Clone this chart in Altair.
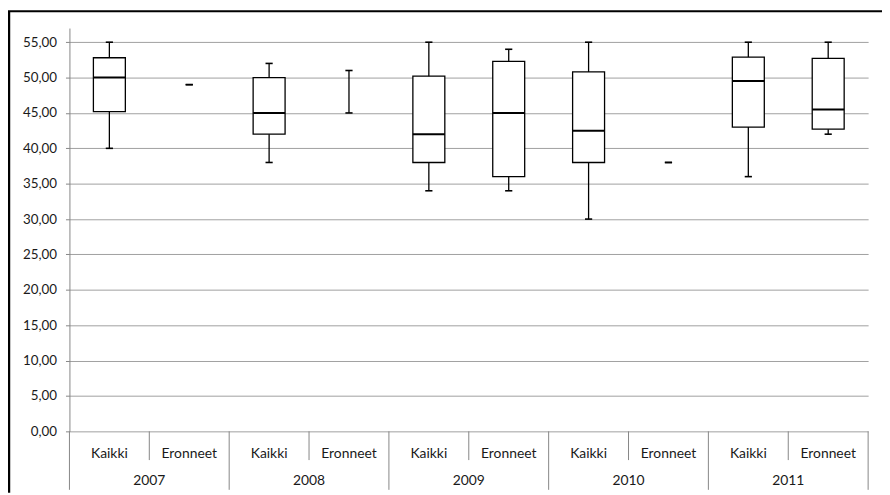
import altair as alt
import pandas as pd

# ---- data ----
years = ["2007", "2007", "2008", "2008", "2009", "2009", "2010", "2010", "2011", "2011"]
groups = ["Kaikki", "Eronneet"] * 5
mins = [40, 49, 38, 45, 34, 34, 30, 38, 36, 42]
q1s = [45.2, None, 42, None, 38, 36, 38, None, 43, 42.7]
meds = [50, None, 45, None, 42, 45, 42.5, None, 49.5, 45.5]
q3s = [52.8, None, 50, None, 50.2, 52.3, 50.8, None, 52.9, 52.7]
maxs = [55, 49, 52, 51, 55, 54, 55, 38, 55, 55]
year_labels = ["2007", "2008", "2009", "2010", "2011"]
y_ticks = [0, 5, 10, 15, 20, 25, 30, 35, 40, 45, 50, 55]

FONT = "Lato"
W, H = 806, 407

df = pd.DataFrame({
    "year": years, "group": groups, "min": mins, "q1": q1s,
    "median": meds, "q3": q3s, "max": maxs,
})
df["pos"] = df.index + 0.5

ydf = pd.DataFrame({"year": year_labels})
ydf["pos"] = ydf.index * 2 + 1.0

bdf = pd.DataFrame({"b": list(range(11))})
bdf["kind"] = ["outer" if b % 2 == 0 else "inner" for b in bdf["b"]]

xscale = alt.Scale(domain=[0, 10], nice=False, zero=False)
yscale = alt.Scale(domain=[0, 57], nice=False, zero=True)
yaxis = alt.Axis(
    values=y_ticks, tickCount=12, labelOverlap=False,
    labelExpr="replace(format(datum.value, '.2f'), '.', ',')",
    grid=True, gridColor="#a0a0a0", gridWidth=1,
    domainColor="#868686", tickColor="#868686", tickSize=4,
    labelPadding=9, labelFont=FONT, labelFontSize=13.5, labelColor="#1a1a1a",
    title=None)

base = alt.Chart(df)

whisk = base.mark_rule(color="#000", strokeWidth=1.3).encode(
    x=alt.X("pos:Q", scale=xscale, axis=None),
    y=alt.Y("min:Q", scale=yscale, axis=yaxis),
    y2="max:Q",
)

box_base = base.transform_filter("isValid(datum.q1)").transform_calculate(
    xl="datum.pos - 0.2", xr="datum.pos + 0.2")

box = box_base.mark_bar(fill="white", stroke="#000", strokeWidth=1.3).encode(
    x=alt.X("xl:Q", scale=xscale, axis=None), x2="xr:Q",
    y=alt.Y("q1:Q", scale=yscale, axis=yaxis), y2="q3:Q",
)
med = box_base.mark_rule(color="#000", strokeWidth=2).encode(
    x=alt.X("xl:Q", scale=xscale, axis=None), x2="xr:Q",
    y=alt.Y("median:Q", scale=yscale, axis=yaxis),
)

cap_base = base.transform_calculate(cl="datum.pos - 0.045", cr="datum.pos + 0.045")
cap_lo = cap_base.mark_rule(color="#000", strokeWidth=1.6).encode(
    x=alt.X("cl:Q", scale=xscale, axis=None), x2="cr:Q",
    y=alt.Y("min:Q", scale=yscale, axis=yaxis))
cap_hi = cap_base.mark_rule(color="#000", strokeWidth=1.6).encode(
    x=alt.X("cl:Q", scale=xscale, axis=None), x2="cr:Q",
    y=alt.Y("max:Q", scale=yscale, axis=yaxis))

sep_inner = alt.Chart(bdf).transform_filter("datum.kind == 'inner'").mark_rule(
    color="#868686", strokeWidth=1).encode(
    x=alt.X("b:Q", scale=xscale, axis=None), y=alt.value(H), y2=alt.value(H + 29))
sep_outer = alt.Chart(bdf).transform_filter("datum.kind == 'outer'").mark_rule(
    color="#868686", strokeWidth=1).encode(
    x=alt.X("b:Q", scale=xscale, axis=None), y=alt.value(H), y2=alt.value(H + 59))

grp_text = base.mark_text(font=FONT, fontSize=14, color="#1a1a1a", baseline="middle").encode(
    x=alt.X("pos:Q", scale=xscale, axis=None), y=alt.value(H + 23), text="group:N")
year_text = alt.Chart(ydf).mark_text(font=FONT, fontSize=14, color="#1a1a1a", baseline="middle").encode(
    x=alt.X("pos:Q", scale=xscale, axis=None), y=alt.value(H + 50), text="year:N")

# frame decorations (edge of the surrounding table)
left_border = alt.Chart(bdf).transform_filter("datum.b == 0").mark_rule(
    color="#000", strokeWidth=2.5).encode(
    x=alt.value(-61), y=alt.value(-17), y2=alt.value(H + 62))
top_border = alt.Chart(bdf).transform_filter("datum.b == 0").mark_rule(
    color="#000", strokeWidth=2).encode(
    x=alt.value(-62), x2=alt.value(W + 14), y=alt.value(-17))

chart = alt.layer(
    sep_inner, sep_outer, whisk, box, med, cap_lo, cap_hi, grp_text, year_text,
    left_border, top_border,
).properties(
    width=W, height=H,
    padding={"left": 62, "top": 18, "right": 14, "bottom": 62},
    autosize=alt.AutoSizeParams(type="none"),
).configure_view(stroke=None)

chart.save("out.html", embed_options={"renderer": "svg", "actions": False})
